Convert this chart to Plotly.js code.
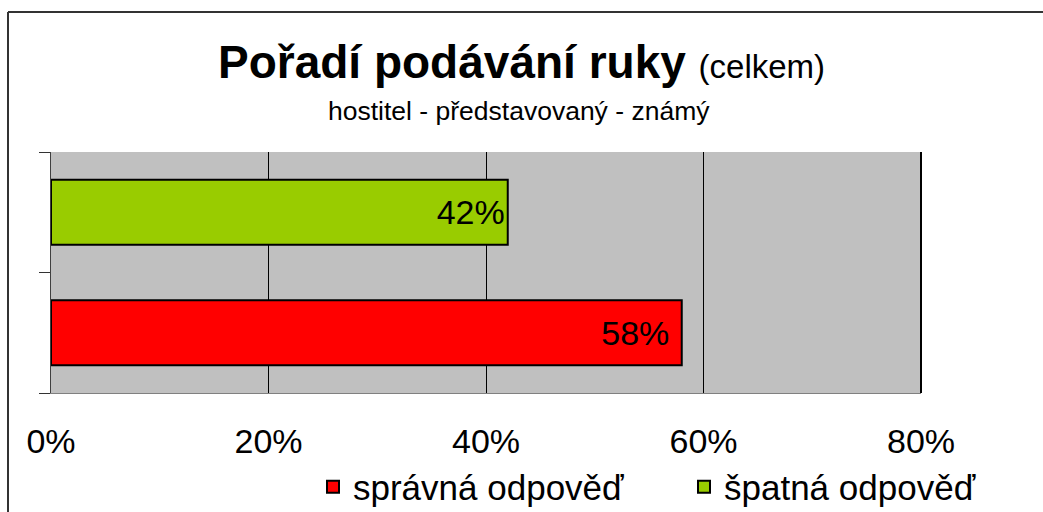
<!DOCTYPE html>
<html>
<head>
<meta charset="utf-8">
<script src="https://cdn.plot.ly/plotly-3.0.1.min.js"></script>
<style>
html,body{margin:0;padding:0;background:#fff;}
#chart{width:1043px;height:512px;}
</style>
</head>
<body>
<div id="chart"></div>
<script>
const categories = ["správná odpověď", "špatná odpověď"];
const values = [0.58, 0.42];
const colors = ["#FF0000", "#99CC00"];
const tickVals = [0, 0.2, 0.4, 0.6, 0.8];
const tickLabels = ["0%", "20%", "40%", "60%", "80%"];
const titleMain = "Pořadí podávání ruky";
const titleExtra = "(celkem)";
const subtitle = "hostitel - představovaný - známý";

const L = 51, R = 921, T = 152, B = 393, W = 1043, H = 512;
const pw = R - L, ph = B - T;
const px = v => (v - L) / pw;
const py = v => (B - v) / ph;

const legendIds = ["legend", "legend2"];
const labelPad = ["\u00a0", ""];
const traces = categories.map((c, i) => ({
  type: "bar",
  orientation: "h",
  name: c,
  y: [c],
  x: [values[i]],
  width: 0.54,
  legend: legendIds[i],
  marker: {color: colors[i], line: {color: "#000", width: 2}},
  texttemplate: "%{x:.0%}" + labelPad[i],
  textposition: "inside",
  insidetextanchor: "end",
  textfont: {family: "Liberation Sans, Arial, sans-serif", size: 34, color: "#000"},
  hoverinfo: "skip"
}));

const legendBase = {
  orientation: "h",
  xanchor: "left",
  yanchor: "middle",
  font: {size: 35, color: "#000"},
  bgcolor: "rgba(0,0,0,0)",
  itemclick: false
};

const layout = {
  width: W, height: H,
  margin: {l: L, r: W - R, t: T, b: H - B, pad: 0, autoexpand: false},
  paper_bgcolor: "#ffffff",
  plot_bgcolor: "#C0C0C0",
  font: {family: "Liberation Sans, Arial, sans-serif", color: "#000"},
  barmode: "overlay",
  showlegend: true,
  xaxis: {
    range: [0, 0.8],
    tickvals: tickVals,
    ticktext: tickLabels,
    tickfont: {size: 34, color: "#000"},
    showgrid: true, gridcolor: "#000", gridwidth: 1,
    showline: true, linecolor: "#808080", linewidth: 1,
    zeroline: false,
    ticks: "", ticklabelstandoff: 18,
    fixedrange: true
  },
  yaxis: {
    type: "category",
    categoryarray: categories,
    showticklabels: false,
    ticks: "outside", ticklen: 11, tickcolor: "#333", tickwidth: 1,
    tickson: "boundaries",
    showgrid: false,
    showline: true, linecolor: "#404040", linewidth: 1,
    zeroline: false,
    fixedrange: true
  },
  legend: Object.assign({}, legendBase, {x: px(313), y: py(487)}),
  legend2: Object.assign({}, legendBase, {x: px(684), y: py(487)}),
  shapes: [
    {type: "line", xref: "paper", yref: "paper", x0: 1, x1: 1, y0: 0, y1: 1,
     line: {color: "#000", width: 2}},
    {type: "line", xref: "paper", yref: "paper", x0: px(8), x1: px(8), y0: py(12), y1: py(520),
     line: {color: "#333", width: 2}},
    {type: "line", xref: "paper", yref: "paper", x0: px(8), x1: px(1050), y0: py(12), y1: py(12),
     line: {color: "#333", width: 2}}
  ],
  annotations: [
    {xref: "paper", yref: "paper", x: px(521), y: py(62), xanchor: "center", yanchor: "middle",
     showarrow: false,
     text: "<b>" + titleMain + "</b> <span style='font-size:33px'>" + titleExtra + "</span>",
     font: {size: 46, color: "#000"}},
    {xref: "paper", yref: "paper", x: px(519), y: py(111), xanchor: "center", yanchor: "middle",
     showarrow: false,
     text: subtitle,
     font: {size: 26.5, color: "#000"}}
  ]
};

Plotly.newPlot("chart", traces, layout, {displayModeBar: false, staticPlot: true});
</script>
</body>
</html>
